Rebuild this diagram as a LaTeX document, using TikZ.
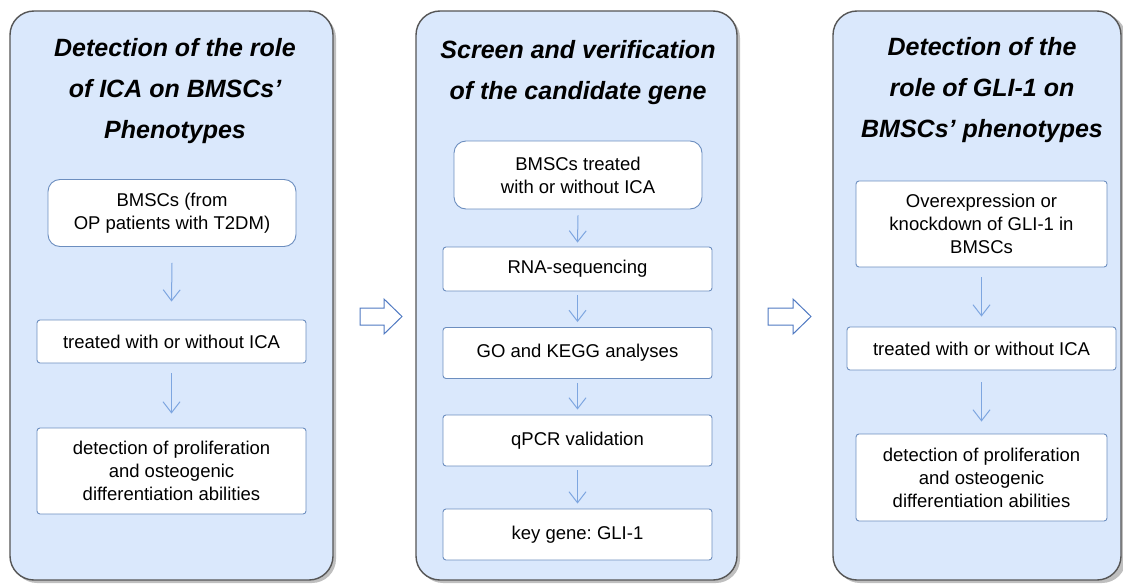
\documentclass[tikz,border=0pt]{standalone}
\usepackage{fontspec}
\setmainfont{Liberation Sans}
\frenchspacing
\usetikzlibrary{arrows.meta}
\definecolor{panelfill}{HTML}{DAE8FC}
\definecolor{panelline}{HTML}{555555}
\definecolor{boxline}{HTML}{6C8EBF}
\definecolor{arrline}{HTML}{7EA6E0}
\definecolor{blockline}{HTML}{4F79C2}
\tikzset{
  panel/.style={draw=panelline, line width=1.4pt, fill=panelfill, rounded corners=24pt},
  panelshadow/.style={fill=black, opacity=0.25, rounded corners=24pt},
  title/.style={font=\fontsize{25}{41}\selectfont\bfseries\itshape, align=center, inner sep=0pt},
  stepbox/.style={draw=boxline, line width=0.9pt, fill=white, rounded corners=3pt,
     font=\fontsize{18.5}{23}\selectfont, align=center, inner sep=0pt},
  roundbox/.style={stepbox, rounded corners=12pt},
  flow/.style={draw=arrline, line width=1pt, -{Straight Barb[length=11pt,width=17pt,line width=1pt]}},
  blockarrow/.style={draw=blockline, line width=1pt, fill=white, line join=miter}
}
\begin{document}
\begin{tikzpicture}[x=1pt,y=-1pt]
\useasboundingbox (0,0) rectangle (1123,583);
% panels with shadows
\fill[panelshadow] (13,14) rectangle (336,583);
\draw[panel] (10,11) rectangle (333,580);
\fill[panelshadow] (419,14) rectangle (740,583);
\draw[panel] (416,11) rectangle (737,580);
\fill[panelshadow] (836,14) rectangle (1126,583);
\draw[panel] (833,11) rectangle (1121,580);

% panel 1
\node[title] (t1) at (175,91) {Detection of the role\\of ICA on BMSCs’\\Phenotypes};
\node[roundbox, minimum width=248pt, minimum height=67pt] (a1) at (172,213) {BMSCs (from\\OP patients with T2DM)};
\node[stepbox, minimum width=269pt, minimum height=43pt] (a2) at (171.5,341.5) {treated with or without ICA};
\node[stepbox, minimum width=269pt, minimum height=86pt] (a3) at (171.5,471) {detection of proliferation\\and osteogenic\\differentiation abilities};
\draw[flow] ([yshift=-16pt]a1.south) -- ([yshift=18pt]a2.north);
\draw[flow] ([yshift=-10pt]a2.south) -- ([yshift=14pt]a3.north);

% panel 2
\node[title] (t2) at (578,73) {Screen and verification\\of the candidate gene};
\node[roundbox, minimum width=248pt, minimum height=68pt] (b1) at (578,175) {BMSCs treated\\with or without ICA};
\node[stepbox, minimum width=269pt, minimum height=44pt] (b2) at (577.5,269) {RNA-sequencing};
\node[stepbox, minimum width=269pt, minimum height=51pt] (b3) at (577.5,353) {GO and KEGG analyses};
\node[stepbox, minimum width=269pt, minimum height=51pt] (b4) at (577.5,440.5) {qPCR validation};
\node[stepbox, minimum width=269pt, minimum height=51pt] (b5) at (577.5,534.5) {key gene: GLI-1};
\draw[flow] ([yshift=-6pt]b1.south) -- ([yshift=4pt]b2.north);
\draw[flow] ([yshift=-4pt]b2.south) -- ([yshift=5pt]b3.north);
\draw[flow] ([yshift=-4pt]b3.south) -- ([yshift=5pt]b4.north);
\draw[flow] ([yshift=-4pt]b4.south) -- ([yshift=5pt]b5.north);

% panel 3
\node[title] (t3) at (982,90) {Detection of the\\role of GLI-1 on\\BMSCs’ phenotypes};
\node[stepbox, minimum width=251pt, minimum height=86pt] (c1) at (981.5,224) {Overexpression or\\knockdown of GLI-1 in\\BMSCs};
\node[stepbox, minimum width=269pt, minimum height=43pt] (c2) at (981.5,348.5) {treated with or without ICA};
\node[stepbox, minimum width=251pt, minimum height=87pt] (c3) at (981.5,477.5) {detection of proliferation\\and osteogenic\\differentiation abilities};
\draw[flow] ([yshift=-10pt]c1.south) -- ([yshift=10pt]c2.north);
\draw[flow] ([yshift=-12pt]c2.south) -- ([yshift=12pt]c3.north);

% block arrows between panels
\draw[blockarrow] (360,308) -- (384,308) -- (384,299) -- (402,316.5) -- (384,334) -- (384,325) -- (360,325) -- cycle;
\draw[blockarrow] (768,308) -- (793,308) -- (793,299) -- (811,316.5) -- (793,334) -- (793,325) -- (768,325) -- cycle;
\end{tikzpicture}
\end{document}
